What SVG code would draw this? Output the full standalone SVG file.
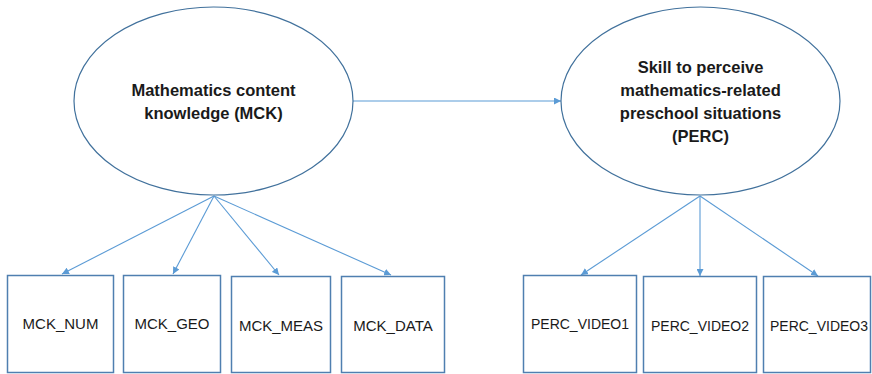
<svg xmlns="http://www.w3.org/2000/svg" width="872" height="374" viewBox="0 0 872 374">
  <defs>
    <marker id="arrow" viewBox="0 0 10 10" refX="10" refY="5" markerWidth="7" markerHeight="7" markerUnits="userSpaceOnUse" orient="auto">
      <path d="M0,0 L10,5 L0,10 Z" fill="#5B9BD5"/>
    </marker>
  </defs>
  <style>
    .latent { fill: #ffffff; stroke: #41719C; stroke-width: 1.2; }
    .indicator { fill: #ffffff; stroke: #4F7FB0; stroke-width: 1.5; }
    .title { font-family: "Liberation Sans", Arial, sans-serif; font-weight: bold; font-size: 16.5px; fill: #1a1a1a; text-anchor: middle; }
    .label { font-family: "Liberation Sans", Arial, sans-serif; font-size: 15px; fill: #1a1a1a; text-anchor: middle; }
    .label.narrow { font-size: 14px; }
    .link { fill: none; stroke: #5B9BD5; stroke-width: 1.1; marker-end: url(#arrow); }
  </style>
  <rect width="872" height="374" fill="#ffffff"/>

  <!-- paths between constructs and indicators -->
  <g id="connectors">
    <line class="link" x1="353" y1="101" x2="561" y2="101"/>
    <line class="link" x1="214" y1="196" x2="62" y2="274"/>
    <line class="link" x1="214" y1="196" x2="173" y2="274"/>
    <line class="link" x1="214" y1="196" x2="279" y2="275"/>
    <line class="link" x1="214" y1="196" x2="391" y2="275"/>
    <line class="link" x1="700" y1="196" x2="581" y2="275"/>
    <line class="link" x1="700" y1="196" x2="700" y2="276"/>
    <line class="link" x1="700" y1="196" x2="818" y2="276"/>
  </g>

  <g id="mck">
    <ellipse class="latent" cx="213.5" cy="101" rx="139.5" ry="94"/>
    <text class="title" x="213.5" y="96">Mathematics content</text>
    <text class="title" x="213.5" y="119">knowledge (MCK)</text>
  </g>

  <g id="perc">
    <ellipse class="latent" cx="700.5" cy="101" rx="139.5" ry="94"/>
    <text class="title" x="700.5" y="73">Skill to perceive</text>
    <text class="title" x="700.5" y="96">mathematics-related</text>
    <text class="title" x="700.5" y="119">preschool situations</text>
    <text class="title" x="700.5" y="142">(PERC)</text>
  </g>

  <g id="mck_num">
    <rect class="indicator" x="7.5" y="275.5" width="106" height="97"/>
    <text class="label" x="60.5" y="329">MCK_NUM</text>
  </g>
  <g id="mck_geo">
    <rect class="indicator" x="123.5" y="275.5" width="97" height="97"/>
    <text class="label" x="172" y="329">MCK_GEO</text>
  </g>
  <g id="mck_meas">
    <rect class="indicator" x="231.5" y="276.5" width="99" height="96"/>
    <text class="label" x="281" y="331">MCK_MEAS</text>
  </g>
  <g id="mck_data">
    <rect class="indicator" x="341.5" y="276.5" width="103" height="96"/>
    <text class="label" x="393" y="331">MCK_DATA</text>
  </g>

  <g id="perc_video1">
    <rect class="indicator" x="523.5" y="275.5" width="113" height="97"/>
    <text class="label narrow" x="580" y="329">PERC_VIDEO1</text>
  </g>
  <g id="perc_video2">
    <rect class="indicator" x="643.5" y="276.5" width="113" height="96"/>
    <text class="label narrow" x="700" y="331">PERC_VIDEO2</text>
  </g>
  <g id="perc_video3">
    <rect class="indicator" x="763.5" y="276.5" width="107" height="96"/>
    <text class="label narrow" x="819" y="331">PERC_VIDEO3</text>
  </g>
</svg>
